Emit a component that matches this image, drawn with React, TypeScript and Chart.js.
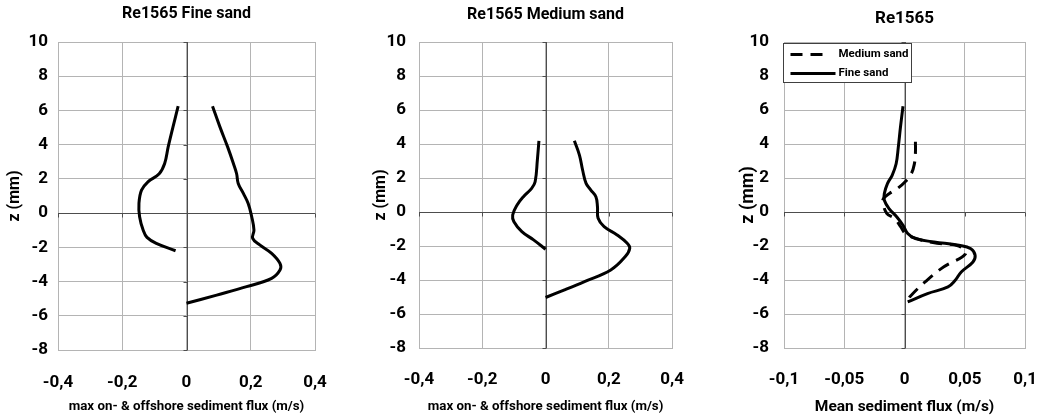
import React, { useEffect, useRef } from "react";
import { Chart, registerables } from "chart.js";

Chart.register(...registerables);

// ---------- DATA ----------
const zTickValues = [-8, -6, -4, -2, 0, 2, 4, 6, 8, 10];
const zTickLabels = ["-8", "-6", "-4", "-2", "0", "2", "4", "6", "8", "10"];

const maxTickValues = [-0.4, -0.2, 0, 0.2, 0.4];
const maxTickLabels = ["-0,4", "-0,2", "0", "0,2", "0,4"];

const meanTickValues = [-0.1, -0.05, 0, 0.05, 0.1];
const meanTickLabels = ["-0,1", "-0,05", "0", "0,05", "0,1"];

// Panel 1: Re1565 Fine sand (max offshore / onshore)
const fineOffX = [-0.026, -0.042, -0.057, -0.068, -0.085, -0.12, -0.14, -0.148, -0.146, -0.135, -0.123, -0.094, -0.034];
const fineOffZ = [6.25, 5.04, 3.87, 2.9, 2.3, 1.83, 1.34, 0.56, -0.21, -0.99, -1.42, -1.77, -2.2];
const fineOnX = [0.081, 0.104, 0.128, 0.146, 0.156, 0.161, 0.177, 0.192, 0.203, 0.21, 0.206, 0.229, 0.265, 0.291, 0.291, 0.265, 0.187, 0.094, 0.0];
const fineOnZ = [6.25, 5.04, 3.87, 2.9, 2.3, 1.73, 1.15, 0.56, -0.21, -0.99, -1.48, -1.87, -2.35, -2.94, -3.33, -3.81, -4.3, -4.79, -5.27];

// Panel 2: Re1565 Medium sand (max offshore / onshore)
const medOffX = [-0.021, -0.026, -0.033, -0.044, -0.07, -0.09, -0.104, -0.1, -0.075, -0.038, 0.0];
const medOffZ = [4.19, 3.05, 1.78, 1.39, 0.9, 0.41, -0.18, -0.57, -1.15, -1.64, -2.19];
const medOnX = [0.091, 0.107, 0.117, 0.128, 0.143, 0.159, 0.164, 0.166, 0.185, 0.226, 0.258, 0.266, 0.252, 0.206, 0.123, 0.06, 0.0];
const medOnZ = [4.19, 3.35, 2.47, 1.68, 1.29, 0.9, 0.31, -0.37, -0.86, -1.35, -1.84, -2.13, -2.62, -3.41, -4.09, -4.58, -5.03];

// Panel 3: Re1565 mean sediment flux
const meanSeriesNames = ["Medium sand", "Fine sand"];
const meanMedX = [0.009, 0.009, 0.0082, 0.0057, 0.0005, -0.0058, -0.0123, -0.0174, -0.018, -0.0148, -0.0085, -0.0033, 0.0005, 0.0095, 0.027, 0.045, 0.0505, 0.0326, 0.0172, 0.0044, 0.003];
const meanMedZ = [4.13, 3.45, 2.86, 2.27, 1.78, 1.39, 1.1, 0.8, 0.6, -0.08, -0.37, -0.86, -1.25, -1.55, -1.84, -2.0, -2.47, -3.22, -4.1, -4.98, -5.18];
const meanFineX = [-0.0013, -0.0034, -0.0052, -0.007, -0.0103, -0.0142, -0.0168, -0.0168, -0.0129, -0.0064, -0.0013, 0.0026, 0.009, 0.0245, 0.045, 0.055, 0.0585, 0.0567, 0.047, 0.042, 0.036, 0.019, 0.0026];
const meanFineZ = [6.22, 5.0, 3.82, 2.84, 2.16, 1.67, 1.08, 0.69, 0.2, -0.29, -0.78, -1.27, -1.57, -1.76, -1.96, -2.16, -2.55, -2.94, -3.53, -4.02, -4.41, -4.8, -5.29];

// ---------- HELPERS ----------
const FONT = "Roboto, 'Liberation Sans', sans-serif";
const GRID = "#b4b4b4";
const AXIS = "#4d4d4d";

const pts = (xs: number[], zs: number[]) => xs.map((x, i) => ({ x, y: zs[i] }));

const zeroAxes = {
  id: "zeroAxes",
  beforeDatasetsDraw(chart: any) {
    const { ctx, chartArea: a, scales } = chart;
    const xs = scales.x;
    const ys = scales.y;
    const x0 = Math.round(xs.getPixelForValue(0)) + 0.5;
    const y0 = Math.round(ys.getPixelForValue(0)) + 0.5;
    ctx.save();
    ctx.strokeStyle = AXIS;
    ctx.lineWidth = 1;
    ctx.beginPath();
    ctx.moveTo(a.left, y0);
    ctx.lineTo(a.right, y0);
    ctx.moveTo(x0, a.top);
    ctx.lineTo(x0, a.bottom);
    xs.ticks.forEach((t: any) => {
      const px = Math.round(xs.getPixelForValue(t.value)) + 0.5;
      ctx.moveTo(px, y0);
      ctx.lineTo(px, y0 + 4);
    });
    ys.ticks.forEach((t: any) => {
      const py = Math.round(ys.getPixelForValue(t.value)) + 0.5;
      ctx.moveTo(x0 - 4, py);
      ctx.lineTo(x0, py);
    });
    ctx.stroke();
    ctx.restore();
  },
};

const boxLegend = {
  id: "boxLegend",
  afterDatasetsDraw(chart: any) {
    const { ctx, chartArea: a } = chart;
    const ds = chart.data.datasets;
    const bx = a.left - 0.5;
    const by = a.top + 1.5;
    const bw = 128;
    const bh = 39;
    ctx.save();
    ctx.fillStyle = "#ffffff";
    ctx.fillRect(bx, by, bw, bh);
    ctx.strokeStyle = "#404040";
    ctx.lineWidth = 1;
    ctx.strokeRect(bx, by, bw, bh);
    ctx.font = `bold 11.5px ${FONT}`;
    ctx.textBaseline = "middle";
    ctx.textAlign = "left";
    ds.forEach((d: any, i: number) => {
      const yy = by + 11 + i * 19;
      ctx.strokeStyle = "#000";
      ctx.lineWidth = 3;
      ctx.setLineDash(d.borderDash || []);
      ctx.beginPath();
      ctx.moveTo(bx + 7, yy);
      ctx.lineTo(bx + (d.borderDash && d.borderDash.length ? 42 : 52), yy);
      ctx.stroke();
      ctx.setLineDash([]);
      ctx.fillStyle = "#000";
      ctx.fillText(d.label, bx + 55, yy);
    });
    ctx.restore();
  },
};

type PanelProps = {
  title: string;
  titleSize: number;
  titlePad: { top: number; bottom: number };
  xTitle: string;
  xTitleSize: number;
  xTitlePad: number;
  xTickValues: number[];
  xTickLabels: string[];
  xMin: number;
  xMax: number;
  xTickPad: number;
  xAxisHeight: number;
  yAxisWidth: number;
  yTickPad: number;
  yTitleSize: number;
  yTitlePad: number;
  tickSize: number;
  padRight: number;
  datasets: any[];
  legend?: boolean;
};

function Panel(p: PanelProps) {
  const ref = useRef<HTMLCanvasElement | null>(null);
  useEffect(() => {
    if (!ref.current) return;
    const chart = new Chart(ref.current, {
      type: "scatter",
      data: { datasets: p.datasets },
      options: {
        animation: false,
        responsive: false,
        layout: { padding: { left: 0, right: p.padRight, top: 0, bottom: 0 } },
        plugins: {
          legend: { display: false },
          tooltip: { enabled: false },
          title: {
            display: true,
            text: p.title,
            fullSize: false,
            color: "#000",
            font: { family: FONT, size: p.titleSize, weight: "bold" },
            padding: p.titlePad,
          },
        },
        scales: {
          x: {
            type: "linear",
            min: p.xMin,
            max: p.xMax,
            afterBuildTicks: (s: any) => {
              s.ticks = p.xTickValues.map((v) => ({ value: v }));
            },
            afterFit: (s: any) => {
              s.height = p.xAxisHeight;
            },
            ticks: {
              autoSkip: false,
              maxRotation: 0,
              padding: p.xTickPad,
              color: "#000",
              font: { family: FONT, size: p.tickSize, weight: "bold" },
              callback: (_v: any, i: number) => p.xTickLabels[i],
            },
            grid: { color: GRID, lineWidth: 1, drawTicks: false },
            border: { display: true, color: GRID },
            title: {
              display: true,
              text: p.xTitle,
              color: "#000",
              font: { family: FONT, size: p.xTitleSize, weight: "bold" },
              padding: { top: 0, bottom: p.xTitlePad },
            },
          },
          y: {
            type: "linear",
            min: -8,
            max: 10,
            afterBuildTicks: (s: any) => {
              s.ticks = zTickValues.map((v) => ({ value: v }));
            },
            afterFit: (s: any) => {
              s.width = p.yAxisWidth;
            },
            ticks: {
              autoSkip: false,
              padding: p.yTickPad,
              color: "#000",
              font: { family: FONT, size: p.tickSize, weight: "bold" },
              callback: (_v: any, i: number) => zTickLabels[i],
            },
            grid: { color: GRID, lineWidth: 1, drawTicks: false },
            border: { display: true, color: GRID },
            title: {
              display: true,
              text: "z (mm)",
              color: "#000",
              font: { family: FONT, size: p.yTitleSize, weight: "bold" },
              padding: { top: p.yTitlePad, bottom: 0 },
            },
          },
        },
      } as any,
      plugins: p.legend ? [zeroAxes, boxLegend] : [zeroAxes],
    });
    return () => chart.destroy();
  }, []);
  return <canvas ref={ref} width={353} height={418} style={{ display: "block", width: 353, height: 418 }} />;
}

const lineStyle = {
  showLine: true,
  borderColor: "#000",
  backgroundColor: "#000",
  borderWidth: 3,
  pointRadius: 0,
  pointHoverRadius: 0,
  tension: 0.4,
  fill: false,
};

export default function App() {
  return (
    <div
      style={{
        position: "fixed",
        left: 0,
        top: 0,
        width: 1059,
        height: 418,
        display: "flex",
        background: "#fff",
      }}
    >
      <Panel
        title="Re1565 Fine sand"
        titleSize={16}
        titlePad={{ top: 4.4, bottom: 18.4 }}
        xTitle="max on- & offshore sediment flux (m/s)"
        xTitleSize={13.3}
        xTitlePad={3}
        xTickValues={maxTickValues}
        xTickLabels={maxTickLabels}
        xMin={-0.4}
        xMax={0.4}
        xTickPad={23}
        xAxisHeight={68}
        yAxisWidth={58}
        yTickPad={10}
        yTitleSize={16}
        yTitlePad={5.4}
        tickSize={17}
        padRight={38}
        datasets={[
          { ...lineStyle, label: "offshore", data: pts(fineOffX, fineOffZ) },
          { ...lineStyle, label: "onshore", data: pts(fineOnX, fineOnZ) },
        ]}
      />
      <Panel
        title="Re1565 Medium sand"
        titleSize={16}
        titlePad={{ top: 5.4, bottom: 17.4 }}
        xTitle="max on- & offshore sediment flux (m/s)"
        xTitleSize={13.3}
        xTitlePad={3}
        xTickValues={maxTickValues}
        xTickLabels={maxTickLabels}
        xMin={-0.4}
        xMax={0.4}
        xTickPad={22}
        xAxisHeight={70}
        yAxisWidth={66}
        yTickPad={13}
        yTitleSize={16}
        yTitlePad={18}
        tickSize={17}
        padRight={30}
        datasets={[
          { ...lineStyle, label: "offshore", data: pts(medOffX, medOffZ) },
          { ...lineStyle, label: "onshore", data: pts(medOnX, medOnZ) },
        ]}
      />
      <Panel
        title="Re1565"
        titleSize={17}
        titlePad={{ top: 8.1, bottom: 13.5 }}
        xTitle="Mean sediment flux (m/s)"
        xTitleSize={15.5}
        xTitlePad={1.5}
        xTickValues={meanTickValues}
        xTickLabels={meanTickLabels}
        xMin={-0.1}
        xMax={0.1}
        xTickPad={22}
        xAxisHeight={70}
        yAxisWidth={78}
        yTickPad={15}
        yTitleSize={18}
        yTitlePad={32}
        tickSize={17}
        padRight={14}
        legend
        datasets={[
          { ...lineStyle, label: meanSeriesNames[0], borderDash: [12, 8], data: pts(meanMedX, meanMedZ) },
          { ...lineStyle, label: meanSeriesNames[1], data: pts(meanFineX, meanFineZ) },
        ]}
      />
    </div>
  );
}
